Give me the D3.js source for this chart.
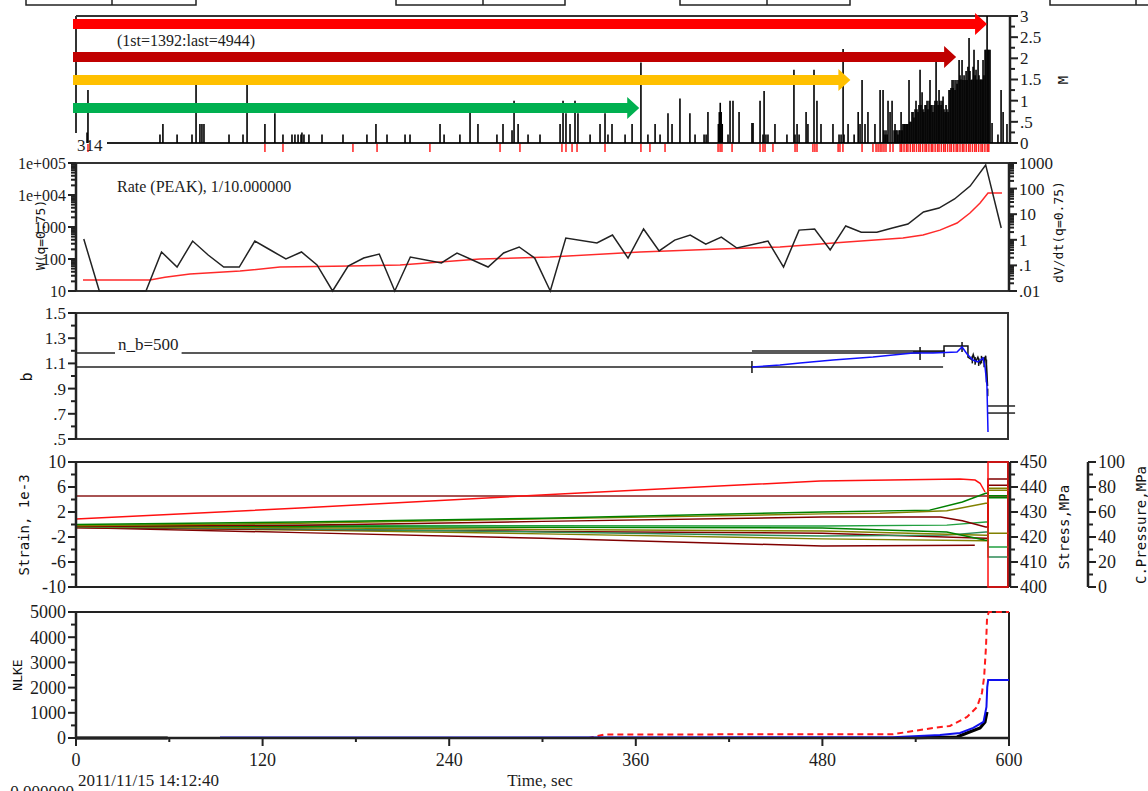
<!DOCTYPE html>
<html><head><meta charset="utf-8">
<script src="https://cdn.jsdelivr.net/npm/d3@7"></script>
<style>
body{margin:0;background:#fff;}
svg{display:block;background:#fff;}
text{font-family:"Liberation Serif","Times New Roman",serif;fill:#1c1c1c;}
text.lbl{font-family:"DejaVu Sans Mono","Liberation Mono",monospace;fill:#111;}
</style></head><body>
<svg id="c" width="1148" height="791"></svg>
<script>
// ---------- data ----------
const timeTicks = [0, 120, 240, 360, 480, 600];

// seismic events: [time s, magnitude]
const quakes = [
 [7.1,0.25],[7.7,1.25],[54.0,0.2],[55.9,0.45],[65.0,0.2],[74.6,0.2],[77.2,1.37],[79.7,0.45],[81.0,0.45],[82.3,0.45],
 [98.4,0.2],[107.4,0.2],[110.0,1.37],[121.5,0.45],[127.9,0.7],[133.1,0.2],[138.9,0.2],[140.8,0.2],[142.8,0.2],[144.7,0.2],
 [145.3,0.25],[146.6,0.2],[149.8,0.2],[158.2,0.2],[171.7,0.2],[187.1,0.2],[192.9,0.45],[200.0,0.2],
 [211.6,0.2],[214.8,0.2],[234.1,0.45],[236.7,0.2],[246.9,0.2],[253.4,0.9],[258.5,0.45],[270.7,0.2],[274.6,0.45],[280.4,0.3],
 [281.7,1.0],[284.3,0.45],[290.7,0.2],[298.4,0.2],[311.3,0.45],[313.2,1.0],[315.1,0.7],[317.7,0.45],[320.9,1.0],[322.8,0.7],
 [330.6,0.2],[337.0,0.45],[340.2,0.7],[342.1,0.2],[344.7,0.45],[353.1,0.2],[357.6,0.45],[363.3,1.9],[367.8,0.2],[372.4,0.45],
 [375.6,0.2],[380.7,0.7],[383.3,0.45],[388.4,1.05],[394.8,0.7],[398.1,0.2],
 [403.9,0.2],[405.2,0.2],[406.4,0.73],[413.1,0.45],[413.7,0.73],[414.3,0.95],[414.9,0.73],[415.6,0.45],[419.3,0.2],[420.6,1.0],
 [422.5,1.0],[426.4,0.73],[434.7,0.47],[435.4,0.47],[439.9,1.0],[441.8,0.2],[442.5,1.23],[443.7,0.2],[445.0,0.2],[449.5,0.45],
 [457.2,0.2],[461.7,1.73],[462.4,0.2],[463.7,0.45],[465.0,0.2],[469.5,0.73],[470.7,0.45],[474.6,1.73],[476.5,1.0],[479.1,0.45],
 [486.8,0.45],[490.7,0.2],[492.0,0.2],[493.3,2.22],[493.9,0.2],[496.5,0.45],[500.4,0.2],[503.0,0.73],[504.2,0.45],[505.5,1.49],
 [507.4,0.45],[509.3,0.73],[513.8,0.45],[517.1,1.25],[519.0,1.25],[519.6,0.3],[520.3,0.2],[520.9,0.3],[521.6,0.2],[522.2,1.0],
 [523.5,0.73],[524.8,1.0],[526.1,0.3],[526.7,0.45],[527.3,0.3],[528.0,0.3],[528.6,0.2],[529.3,0.3],[529.9,0.3],[530.6,0.73],
 [531.2,0.3],[531.8,0.45],[532.5,0.45],[533.1,0.45],[533.8,0.45],[534.4,0.45],[535.0,0.45],[535.7,1.49],[536.3,0.5],[537.0,0.5],
 [537.6,0.73],[538.3,0.73],[538.9,0.6],[539.6,0.8],[540.2,1.0],[540.8,0.8],[541.5,0.73],[542.1,0.9],[542.8,1.73],[543.4,0.9],
 [544.1,1.2],[544.7,0.8],[545.3,0.73],[546.0,0.9],[546.6,0.9],[547.3,1.0],[547.9,0.8],[548.6,1.0],[549.2,1.49],[549.8,0.9],
 [550.5,0.9],[551.1,0.73],[551.8,0.9],[552.4,1.0],[553.1,1.92],[553.7,1.0],[554.4,0.9],[555.0,1.25],[555.6,1.0],[556.3,0.9],
 [556.9,1.0],[557.6,1.1],[558.2,0.8],[558.9,0.73],[559.5,0.9],[560.1,0.8],[560.8,0.73],[561.4,1.25],[562.1,1.25],[562.7,1.3],
 [563.4,1.49],[564.0,1.3],[564.6,1.49],[565.3,1.25],[565.9,1.49],[566.6,1.4],[567.2,1.49],[567.9,1.96],[568.5,1.6],[569.1,1.5],
 [569.8,1.96],[570.4,1.49],[571.1,1.6],[571.7,1.49],[572.4,1.7],[573.0,1.49],[573.6,1.8],[574.3,2.48],[574.9,1.7],[575.6,1.49],
 [576.2,1.5],[576.9,1.8],[577.5,2.2],[578.2,1.6],[578.8,1.73],[579.4,1.5],[580.1,1.96],[580.7,1.6],[581.4,1.5],[582.0,1.5],
 [582.7,1.5],[583.3,1.96],[583.9,1.6],[584.6,2.2],[585.2,2.2],[585.9,3.0],[586.5,2.2],[587.1,2.2],[587.8,2.2],[589.1,0.47],
 [592.9,0.2],[594.9,1.25],[596.2,0.73],[598.7,0.45]
];

// secondary event markers drawn below the baseline (time s)
const markerTimes = [
 7.7,121.5,133.1,178.1,193.6,227.6,272.7,285.5,312.5,315.1,319.0,322.2,340.2,363.3,369.1,378.8,
 412.9,414.2,415.4,421.9,439.9,441.8,443.1,448.2,462.4,463.7,473.9,475.2,476.5,490.1,491.3,493.2,505.5,
 512.5,514.5,515.8,517.1,518.3,519.6,520.9,523.5,525.4,
 530,531,532.5,534,535,536.5,538,539,540.5,542,543,544.5,546,547,548.5,550,551,552.5,554,555,556.5,
 558,559,560.5,562,563,564.5,566,567,568.5,570,571,572.5,574,575,576.5,578,579,580.5,582,583,584.5,586,587
];

// analysis windows (end time, s)
const windowEnds = [585.9, 566.0, 498.0, 362.2];
const windowColors = ["#ff0000", "#c00000", "#ffc000", "#00b050"];

// peak rate per 10 s bin: [time, W]
const peakRate = [
 [5,422],[15,10],[25,10],[35,10],[45,10],[55,166],[65,56],[75,364],[85,133],[95,56],[105,56],[115,364],[125,191],
 [135,100],[145,166],[155,65],[165,10],[175,60],[185,107],[195,143],[205,10],[215,115],[235,75],[245,154],[265,56],
 [275,154],[285,237],[295,107],[305,10],[315,453],[335,316],[345,562],[355,107],[365,867],[375,178],[385,390],[395,562],
 [405,293],[415,486],[425,220],[445,364],[455,56],[465,800],[475,867],[485,191],[495,1080],[505,690],[515,690],[525,930],
 [535,1240],[545,2950],[555,3900],[565,7500],[575,19000],[585,87000],[595,930]
];
// fitted rate: [time, W]
const rateFit = [
 [4.5,22],[47.6,22],[57.2,27],[73.3,34],[105.5,42],[131.2,56],[176.2,60],[208.4,65],[259.8,100],[304.8,115],[362.7,166],
 [414.1,205],[452.7,237],[495.8,340],[531.8,453],[544.7,562],[555.6,800],[566.6,1330],[574.9,2740],[581.4,5600],
 [586.5,11500],[595.5,11500]
];

// b-value
const bWindows = [[0,542.8,1.183],[434.7,558.8,1.198],[0,557.6,1.071],[586.5,603.9,0.762],[586.5,603.9,0.706]];
const bCurve = [
 [434.7,1.071],[452.7,1.087],[465.6,1.103],[486.8,1.127],[512.5,1.151],[538.3,1.183],[551.1,1.183],[566.6,1.19],
 [569.8,1.23],[573.0,1.175],[576.8,1.127],[580.0,1.111],[583.3,1.143],[584.6,1.071],[585.8,0.929],[586.5,0.556]
];
const bStep = [
 [538.3,1.19],[558.2,1.19],[558.2,1.238],[573.6,1.238],[573.6,1.15],[576,1.13],[577,1.17],[578.5,1.11],[580,1.15],
 [581.5,1.10],[583,1.14],[584,1.12],[585,1.16],[585.8,1.02],[586.2,0.92]
];
const bErrors = [
 [434.7,1.024,1.119],[542.8,1.127,1.23],[558.2,1.151,1.206],[569.8,1.19,1.27],[576.4,1.10,1.16],[578.2,1.09,1.15],
 [580.5,1.08,1.14],[582.3,1.10,1.16],[584.0,1.07,1.15],[585.5,0.95,1.13],[586.3,0.84,0.90]
];

// strain, 1e-3: [time, value]
const strainG1 = [[0,0.0],[144,0.4],[300,1.0],[480,2.0],[549,2.3],[570,3.6],[585,5.0],[586.5,5.0],[586.5,4.3],[600,4.3]];
const strainO1 = [[0,-0.2],[144,0.2],[300,0.9],[480,1.7],[517,1.8],[560,2.2],[585,3.4],[586.5,3.4],[586.5,5.8],[600,5.8]];
const strainD1 = [[0,-0.3],[144,-0.1],[300,0.5],[480,1.2],[556,1.2],[570,0.6],[585,-0.4],[586.5,-0.4],[586.5,7.3],[600,7.3]];
const strainG2 = [[0,-0.1],[300,-0.2],[480,-0.24],[560,-0.1],[585,0.4],[586.5,0.4],[586.5,-3.6],[600,-3.6]];
const strainO2 = [[0,-0.3],[144,-0.5],[300,-0.8],[480,-1.04],[585,-1.7],[586.5,-1.7],[586.5,-1.4],[600,-1.4]];
const strainT1 = [[0,-0.4],[144,-0.7],[300,-1.2],[480,-1.84],[560,-1.7],[585,-1.2],[586.5,-1.2],[586.5,-5.2],[600,-5.2]];
const strainD2 = [[0,-0.5],[144,-0.8],[300,-1.1],[480,-1.4],[585,-2.2],[586.5,-2.2],[586.5,6.3],[600,6.3]];
const strainO3 = [[0,-0.4],[144,-0.9],[300,-1.5],[480,-2.3],[585,-2.6],[586.5,-2.6],[586.5,5.5],[600,5.5]];
const strainD3 = [[0,-0.5],[144,-1.3],[300,-2.2],[480,-3.44],[578,-3.3]];
const strainG3 = [[0,-0.2],[144,-0.3],[300,-0.45],[480,-0.56],[560,-1.2],[585,-2.5],[586.5,-2.5],[586.5,4.6],[600,4.6]];
// stress, MPa
const stress = [[0,427.2],[144,431.6],[311.3,437.2],[478.5,442.4],[568.5,443.2],[578.2,442.8],[581.4,441.5],[584.6,438]];
const stressLevel = 436.4;

// cumulative energy
const keBlackEarly = [[0,0],[59,0]];
const keBlackLate = [[540,10],[556,30],[566.6,40],[573,198],[581.4,397],[584.6,635],[585.9,1032]];
const keRed = [[59,0],[330,0],[340,140],[525.4,150],[551,397],[562,476],[573,833],[579.4,1230],[582.6,1786],[584,2420],
 [585.2,3611],[585.9,4802],[587.1,5000],[600,5000]];
const keBlue = [[92.6,20],[525,30],[555.6,120],[568.5,200],[577,400],[583.6,640],[585.5,1230],[586,2020],[586.6,2300],[600,2300]];

// ---------- drawing ----------
const svg = d3.select("#c");
const INK = "#222";
const x = d3.scaleLinear().domain([0, 600]).range([76, 1009]);

function hline(g, x1, x2, y, color = INK, w = 2) {
  g.append("line").attr("x1", x1).attr("x2", x2).attr("y1", y).attr("y2", y).attr("stroke", color).attr("stroke-width", w);
}
function vline(g, xx, y1, y2, color = INK, w = 2) {
  g.append("line").attr("x1", xx).attr("x2", xx).attr("y1", y1).attr("y2", y2).attr("stroke", color).attr("stroke-width", w);
}
// vertical axis with major/minor ticks; side -1 = ticks to the left, +1 = to the right
function axisV(g, y, x0, majors, minors, side, fmt, size = 17) {
  const [r0, r1] = y.range();
  vline(g, x0, r0, r1, INK, 2.5);
  g.selectAll(null).data(minors).join("line")
    .attr("x1", x0).attr("x2", x0 + side * 5).attr("y1", d => y(d)).attr("y2", d => y(d))
    .attr("stroke", INK).attr("stroke-width", 2);
  g.selectAll(null).data(majors).join("line")
    .attr("x1", x0).attr("x2", x0 + side * 8).attr("y1", d => y(d)).attr("y2", d => y(d))
    .attr("stroke", INK).attr("stroke-width", 2);
  g.selectAll(null).data(majors).join("text")
    .attr("x", x0 + side * 10).attr("y", d => y(d)).attr("dy", "0.35em")
    .attr("text-anchor", side < 0 ? "end" : "start").attr("font-size", size)
    .text(fmt);
}
function rotLabel(g, cx, cy, txt, size = 14, cls = "lbl") {
  g.append("text").attr("class", cls).attr("transform", `translate(${cx},${cy}) rotate(-90)`)
    .attr("text-anchor", "middle").attr("dy", "0.35em").attr("font-size", size).text(txt);
}
const lineGen = (ys) => d3.line().x(d => x(d[0])).y(d => ys(d[1]));

// partial header boxes along the top edge
const hdr = svg.append("g");
[[26,112,196],[396,483,565],[680,767,850],[1050,1136,1160]].forEach(([a, m, b]) => {
  hdr.append("rect").attr("x", a).attr("y", -6).attr("width", b - a).attr("height", 11)
    .attr("fill", "none").attr("stroke", INK).attr("stroke-width", 1.5);
  vline(hdr, m, -6, 5, INK, 1.5);
});

// ===== Panel 1: magnitudes =====
const p1 = svg.append("g");
const yM = d3.scaleLinear().domain([0, 3]).range([143, 16]);
hline(p1, 76, 1010, yM(3), "#333", 2);
vline(p1, 76, yM(3), 133, "#333", 2);
hline(p1, 107, 1010, yM(0), INK, 2);
p1.append("g").selectAll("line").data(quakes).join("line")
  .attr("x1", d => x(d[0])).attr("x2", d => x(d[0]))
  .attr("y1", yM(0)).attr("y2", d => yM(d[1]))
  .attr("stroke", "#000").attr("stroke-width", 1.6);
p1.append("g").selectAll("line").data(markerTimes).join("line")
  .attr("x1", d => x(d)).attr("x2", d => x(d))
  .attr("y1", yM(0) + 1).attr("y2", yM(0) + 9)
  .attr("stroke", "#ff2020").attr("stroke-width", 1.5);
// window arrows
const arrowY = [24, 57, 80, 108];
windowEnds.forEach((end, i) => {
  const x0 = 73, x1 = x(end), yc = arrowY[i], h = 5, hh = 11, hl = 12;
  p1.append("path")
    .attr("d", `M${x0},${yc - h}L${x1 - hl},${yc - h}L${x1 - hl},${yc - hh}L${x1},${yc}L${x1 - hl},${yc + hh}L${x1 - hl},${yc + h}L${x0},${yc + h}Z`)
    .attr("fill", windowColors[i]);
});
p1.append("text").attr("x", 117).attr("y", 46).attr("font-size", 16).attr("fill", "#2a2a3a").text("(1st=1392:last=4944)");
p1.append("text").attr("x", 77).attr("y", 151).attr("font-size", 17).text("314");
axisV(p1, yM, 1010, [0, 0.5, 1, 1.5, 2, 2.5, 3], [0.25, 0.75, 1.25, 1.75, 2.25, 2.75], 1,
  d => d === 0 ? "0" : (d < 1 ? String(d).replace(/^0/, "") : String(d)));
rotLabel(p1, 1063, 80, "M", 14);

// ===== Panel 2: rate =====
const p2 = svg.append("g");
const yW = d3.scaleLog().domain([10, 1e5]).range([291, 163]);
const yR = d3.scaleLog().domain([0.01, 1000]).range([291, 163]);
hline(p2, 76, 1009, 163, "#333", 2);
hline(p2, 76, 1009, 291, "#333", 2);
const logMinor = (lo, hi) => { const o = []; for (let p = lo; p < hi; p *= 10) for (let k = 2; k <= 9; k++) o.push(p * k); return o; };
p2.append("path").datum(rateFit).attr("d", lineGen(yW)).attr("fill", "none").attr("stroke", "#ff2a2a").attr("stroke-width", 1.5);
p2.append("path").datum(peakRate).attr("d", lineGen(yW)).attr("fill", "none").attr("stroke", "#222").attr("stroke-width", 1.5);
const leftFmt = { 100000: "1e+005", 10000: "1e+004", 1000: "1000", 100: "100", 10: "10" };
axisV(p2, yW, 76, [10, 100, 1000, 10000, 100000], logMinor(10, 1e5), -1, d => leftFmt[d], 16);
const rightFmt = { 1000: "1000", 100: "100", 10: "10", 1: "1", 0.1: ".1", 0.01: ".01" };
axisV(p2, yR, 1009, [0.01, 0.1, 1, 10, 100, 1000], logMinor(0.01, 1000), 1, d => rightFmt[d], 17);
p2.append("text").attr("x", 117).attr("y", 192).attr("font-size", 16).text("Rate (PEAK), 1/10.000000");
rotLabel(p2, 40, 235, "W(q=0.75)", 13);
rotLabel(p2, 1058, 232, "dV/dt(q=0.75)", 13);

// ===== Panel 3: b-value =====
const p3 = svg.append("g");
const yB = d3.scaleLinear().domain([0.5, 1.5]).range([439, 313]);
p3.append("rect").attr("x", 76).attr("y", 313).attr("width", 1008 - 76).attr("height", 439 - 313)
  .attr("fill", "none").attr("stroke", "#333").attr("stroke-width", 2);
bWindows.forEach(([t0, t1, b]) => hline(p3, x(t0), x(t1), yB(b), "#222", 1.5));
p3.append("path").datum(bStep).attr("d", lineGen(yB)).attr("fill", "none").attr("stroke", "#111").attr("stroke-width", 1.5);
p3.append("g").selectAll("line").data(bErrors).join("line")
  .attr("x1", d => x(d[0])).attr("x2", d => x(d[0])).attr("y1", d => yB(d[1])).attr("y2", d => yB(d[2]))
  .attr("stroke", "#111").attr("stroke-width", 1.5);
p3.append("path").datum(bCurve).attr("d", lineGen(yB)).attr("fill", "none").attr("stroke", "#1010ff").attr("stroke-width", 1.5);
const nb = p3.append("text").attr("x", 118).attr("y", 350).attr("font-size", 17).text("n_b=500");
const bb = nb.node().getBBox();
p3.insert("rect", "text").attr("x", bb.x - 3).attr("y", bb.y).attr("width", bb.width + 6).attr("height", bb.height + 4).attr("fill", "#fff");
axisV(p3, yB, 76, [0.5, 0.7, 0.9, 1.1, 1.3, 1.5], [0.6, 0.8, 1.0, 1.2, 1.4], -1,
  d => d < 1 ? String(d).replace(/^0/, "") : String(d));
rotLabel(p3, 27, 377, "b", 15);

// ===== Panel 4: strain / stress / pressure =====
const p4 = svg.append("g");
const yS = d3.scaleLinear().domain([-10, 10]).range([587, 462]);
const ySt = d3.scaleLinear().domain([400, 450]).range([587, 462]);
const yP = d3.scaleLinear().domain([0, 100]).range([587, 462]);
p4.append("rect").attr("x", 76).attr("y", 462).attr("width", 1008 - 76).attr("height", 125)
  .attr("fill", "none").attr("stroke", "#222").attr("stroke-width", 2);
hline(p4, 76, 1008, ySt(stressLevel), "#8b1a1a", 1.5);
const strainSeries = [
  [strainD3, "#800000"], [strainO3, "#808000"], [strainD2, "#800000"], [strainT1, "#2e8b57"],
  [strainO2, "#808000"], [strainG3, "#008000"], [strainG2, "#22a040"], [strainD1, "#800000"],
  [strainO1, "#808000"], [strainG1, "#008000"]
];
strainSeries.forEach(([data, c]) => {
  p4.append("path").datum(data).attr("d", lineGen(yS))
    .attr("fill", "none").attr("stroke", c).attr("stroke-width", 1.5);
});
p4.append("path").datum(stress).attr("d", lineGen(ySt)).attr("fill", "none").attr("stroke", "#ff1010").attr("stroke-width", 1.5);
p4.append("rect").attr("x", x(586.5)).attr("y", 462).attr("width", 1008 - x(586.5)).attr("height", 125)
  .attr("fill", "none").attr("stroke", "#ff1010").attr("stroke-width", 1.5);
axisV(p4, yS, 76, [-10, -6, -2, 2, 6, 10], [-8, -4, 0, 4, 8], -1, d => String(d), 18);
axisV(p4, ySt, 1010, [400, 410, 420, 430, 440, 450], [405, 415, 425, 435, 445], 1, d => String(d), 18);
axisV(p4, yP, 1088, [0, 20, 40, 60, 80, 100], [10, 30, 50, 70, 90], 1, d => String(d), 18);
rotLabel(p4, 24, 525, "Strain, 1e-3", 14);
rotLabel(p4, 1064, 527, "Stress,MPa", 14);
rotLabel(p4, 1141, 525, "C.Pressure,MPa", 14);

// ===== Panel 5: cumulative energy =====
const p5 = svg.append("g");
const yN = d3.scaleLinear().domain([0, 5000]).range([738, 612]);
hline(p5, 76, 1009, 612, INK, 2);
vline(p5, 1009, 612, 738, INK, 2);
const lineKE = lineGen(yN);
p5.append("path").datum(keBlackEarly).attr("d", lineKE).attr("fill", "none").attr("stroke", "#000").attr("stroke-width", 3);
p5.append("path").datum(keBlackLate).attr("d", lineKE).attr("fill", "none").attr("stroke", "#000").attr("stroke-width", 3);
p5.append("path").datum(keRed).attr("d", lineKE).attr("fill", "none").attr("stroke", "#ff1a1a").attr("stroke-width", 2).attr("stroke-dasharray", "6,4");
p5.append("path").datum(keBlue).attr("d", lineKE).attr("fill", "none").attr("stroke", "#1010ee").attr("stroke-width", 2);
axisV(p5, yN, 76, [0, 1000, 2000, 3000, 4000, 5000], [500, 1500, 2500, 3500, 4500], -1, d => String(d), 18);
rotLabel(p5, 17, 675, "NLKE", 13);

// time axis
const xa = svg.append("g");
hline(xa, 76, 1009, 738, INK, 2.5);
xa.selectAll(null).data([60, 180, 300, 420, 540]).join("line")
  .attr("x1", d => x(d)).attr("x2", d => x(d)).attr("y1", 738).attr("y2", 742).attr("stroke", INK).attr("stroke-width", 2);
xa.selectAll(null).data(timeTicks).join("line")
  .attr("x1", d => x(d)).attr("x2", d => x(d)).attr("y1", 738).attr("y2", 746).attr("stroke", INK).attr("stroke-width", 2);
xa.selectAll(null).data(timeTicks).join("text")
  .attr("x", d => x(d)).attr("y", 766).attr("text-anchor", "middle").attr("font-size", 18).text(d => d);
xa.append("text").attr("x", 540).attr("y", 786).attr("text-anchor", "middle").attr("font-size", 17).text("Time, sec");
xa.append("text").attr("x", 78).attr("y", 786).attr("font-size", 17).text("2011/11/15 14:12:40");
xa.append("text").attr("x", 74).attr("y", 797).attr("text-anchor", "end").attr("font-size", 17).text("0.000000");
</script></body></html>
